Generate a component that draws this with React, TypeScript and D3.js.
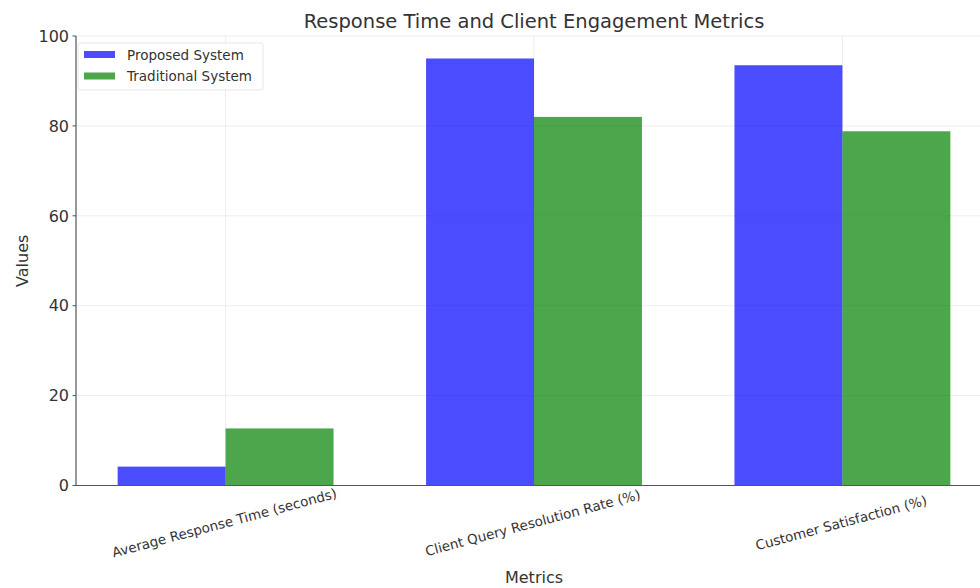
import React from "react";
import * as d3 from "d3";

const categories = [
  "Average Response Time (seconds)",
  "Client Query Resolution Rate (%)",
  "Customer Satisfaction (%)",
];
const proposed = [4.2, 95, 93.5];
const traditional = [12.7, 82, 78.8];
const seriesNames = ["Proposed System", "Traditional System"];
const yTicks = [0, 20, 40, 60, 80, 100];

const W = 980;
const H = 588;
const left = 76;
const right = 992;
const top = 36;
const bottom = 485.5;
const font = "DejaVu Sans, sans-serif";
const barW = 0.35;

export default function App() {
  const x = d3.scaleLinear().domain([-0.485, 2.485]).range([left, right]);
  const y = d3.scaleLinear().domain([0, 100]).range([bottom, top]);
  const colors = ["#0000ff", "#008000"];
  const series = [proposed, traditional];

  return (
    <svg width={W} height={H} style={{ position: "absolute", left: 0, top: 0, background: "#fff" }}>
      <rect width={W} height={H} fill="#fff" />
      {/* grid */}
      {yTicks.map((t) => (
        <line key={"gy" + t} x1={left} x2={right} y1={y(t)} y2={y(t)} stroke="#e8e8e8" strokeWidth={0.8} />
      ))}
      {categories.map((c, i) => (
        <line key={"gx" + i} x1={x(i)} x2={x(i)} y1={top} y2={bottom} stroke="#e8e8e8" strokeWidth={0.8} />
      ))}
      {/* bars */}
      {series.map((s, si) =>
        s.map((v, i) => {
          const x0 = si === 0 ? x(i - barW) : x(i);
          const x1 = si === 0 ? x(i) : x(i + barW);
          return (
            <rect
              key={si + "-" + i}
              x={x0}
              width={x1 - x0}
              y={y(v)}
              height={y(0) - y(v)}
              fill={colors[si]}
              fillOpacity={0.7}
            />
          );
        })
      )}
      {/* axes */}
      <line x1={left} x2={left} y1={top} y2={bottom} stroke="#555" strokeWidth={1.2} />
      <line x1={left} x2={right} y1={bottom} y2={bottom} stroke="#555" strokeWidth={1.2} />
      {yTicks.map((t) => (
        <g key={"yt" + t}>
          <line x1={left - 3.5} x2={left} y1={y(t)} y2={y(t)} stroke="#555" strokeWidth={1} />
          <text x={left - 7} y={y(t)} dy="0.36em" textAnchor="end" fontFamily={font} fontSize={16} fill="#333">
            {t}
          </text>
        </g>
      ))}
      {categories.map((c, i) => (
        <text
          key={"xt" + i}
          transform={`translate(${x(i)},${bottom + 42}) rotate(-15)`}
          textAnchor="middle"
          fontFamily={font}
          fontSize={13.5}
          fill="#333"
        >
          {c}
        </text>
      ))}
      <text x={(left + right) / 2} y={583} textAnchor="middle" fontFamily={font} fontSize={16} fill="#333">
        Metrics
      </text>
      <text
        transform={`translate(28,${(top + bottom) / 2}) rotate(-90)`}
        textAnchor="middle"
        fontFamily={font}
        fontSize={16}
        fill="#333"
      >
        Values
      </text>
      <text x={(left + right) / 2} y={28} textAnchor="middle" fontFamily={font} fontSize={19.5} fill="#333">
        Response Time and Client Engagement Metrics
      </text>
      {/* legend */}
      <rect x={78} y={43} width={185} height={47} fill="#fff" fillOpacity={0.85} stroke="#e0e0e0" strokeWidth={0.8} rx={2} />
      {seriesNames.map((n, i) => (
        <g key={"lg" + i}>
          <rect x={84} y={51 + i * 21.5} width={31} height={7} fill={colors[i]} fillOpacity={0.7} />
          <text x={127} y={55 + i * 21.5} dy="0.36em" fontFamily={font} fontSize={13.5} fill="#333">
            {n}
          </text>
        </g>
      ))}
    </svg>
  );
}
